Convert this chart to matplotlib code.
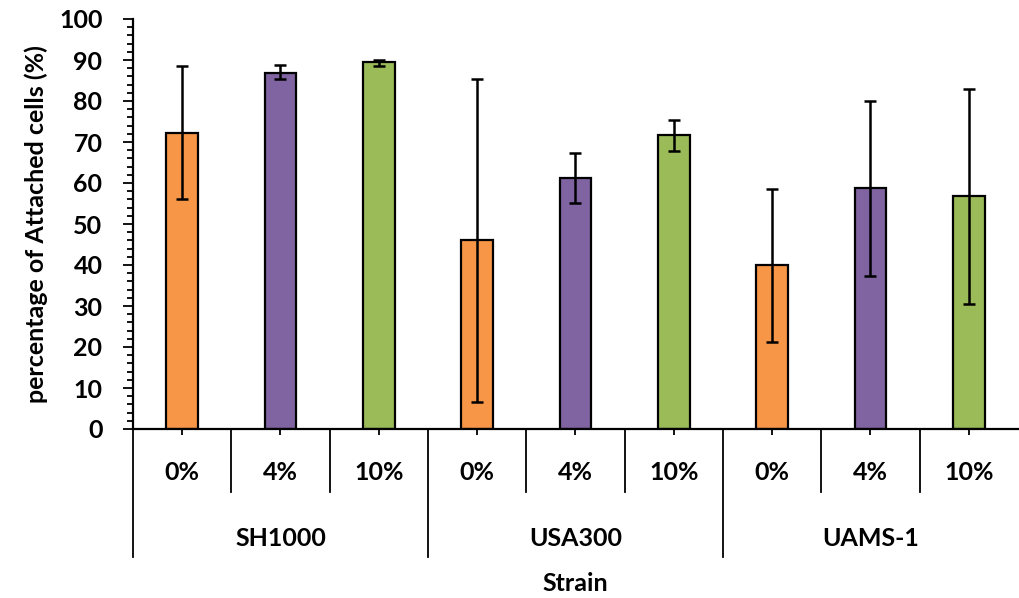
import matplotlib
matplotlib.use("Agg")
import matplotlib.pyplot as plt
from matplotlib.ticker import MultipleLocator

plt.rcParams['font.family'] = ['Lato', 'DejaVu Sans']
plt.rcParams['font.weight'] = 'bold'

strains = ["SH1000", "USA300", "UAMS-1"]
concentrations = ["0%", "4%", "10%"]
values = [72.3, 86.8, 89.4,
          46.1, 61.3, 71.6,
          40.0, 58.8, 56.8]
err_low = [56.0, 85.4, 88.6,
           6.7, 55.2, 67.8,
           21.1, 37.2, 30.4]
err_high = [88.6, 88.7, 90.1,
            85.4, 67.3, 75.4,
            58.5, 80.0, 82.9]
colors_by_conc = ["#F79646", "#8064A2", "#9BBB59"]

n = len(values)
xs = [i + 0.5 for i in range(n)]
bar_colors = [colors_by_conc[i % 3] for i in range(n)]
yerr = [[v - lo for v, lo in zip(values, err_low)],
        [hi - v for v, hi in zip(values, err_high)]]

FS = 18

fig = plt.figure(figsize=(10.19, 5.98), dpi=100)
ax = fig.add_axes([133 / 1019, 1 - 429 / 598, 1 - 133 / 1019 - 0.001, 410 / 598])

ax.bar(xs, values, width=0.32, color=bar_colors, edgecolor="black", linewidth=1.6, zorder=2)
ax.errorbar(xs, values, yerr=yerr, fmt="none", ecolor="black", elinewidth=1.8,
            capsize=4.5, capthick=1.8, zorder=3)

ax.set_xlim(0, n)
ax.set_ylim(0, 100)
ax.yaxis.set_major_locator(MultipleLocator(10))
ax.yaxis.set_minor_locator(MultipleLocator(2))
ax.tick_params(axis="y", which="major", length=7, width=1.3, labelsize=FS, pad=15)
ax.tick_params(axis="y", which="minor", length=4.5, width=1.3)
for lab in ax.get_yticklabels():
    lab.set_fontweight("bold")
ax.set_xticks(xs)
ax.set_xticklabels([])
ax.tick_params(axis="x", which="major", length=4, width=1.3)

for s in ["top", "right"]:
    ax.spines[s].set_visible(False)
for s in ["left", "bottom"]:
    ax.spines[s].set_linewidth(1.6)

ax.set_ylabel("percentage of Attached cells (%)", fontsize=FS, fontweight="bold", labelpad=8)

tr = ax.get_xaxis_transform()
for i in range(n):
    if i % 3 == 0:
        ax.plot([i, i], [0, -0.312], color="black", lw=1.3, transform=tr, clip_on=False)
    else:
        ax.plot([i, i], [0, -0.154], color="black", lw=1.3, transform=tr, clip_on=False)
for i, x in enumerate(xs):
    ax.text(x, -0.105, concentrations[i % 3], transform=tr, ha="center", va="center",
            fontsize=FS, fontweight="bold")
for g, name in enumerate(strains):
    ax.text(g * 3 + 1.5, -0.266, name, transform=tr, ha="center", va="center",
            fontsize=FS, fontweight="bold")
ax.text(n / 2, -0.376, "Strain", transform=tr, ha="center", va="center",
        fontsize=FS, fontweight="bold")

fig.savefig("out.png", dpi=100)
